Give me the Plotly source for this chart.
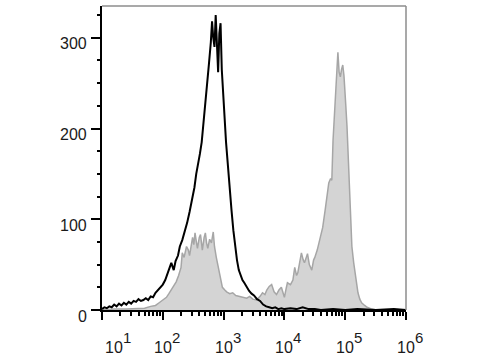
import plotly.graph_objects as go

# Black (open) histogram: log10 fluorescence positions and event counts
black_logx = [1.00, 1.04, 1.08, 1.12, 1.16, 1.20, 1.24, 1.28, 1.32, 1.36, 1.40, 1.44, 1.48, 1.52, 1.56,
              1.60, 1.64, 1.68, 1.72, 1.76, 1.80, 1.84, 1.88, 1.92, 1.96, 2.00, 2.04, 2.08, 2.11, 2.14,
              2.18, 2.21, 2.25, 2.28, 2.32, 2.36, 2.40, 2.44, 2.48, 2.52, 2.55, 2.58, 2.61, 2.64, 2.67,
              2.70, 2.73, 2.76, 2.79, 2.81, 2.83, 2.85, 2.87, 2.89, 2.91, 2.93, 2.95, 2.97, 2.99, 3.01,
              3.04, 3.07, 3.10, 3.13, 3.16, 3.19, 3.22, 3.25, 3.28, 3.31, 3.34, 3.38, 3.42, 3.46, 3.50,
              3.55, 3.60, 3.65, 3.70, 3.75, 3.80, 3.85, 3.90, 3.95, 4.00, 4.10, 4.20, 4.30, 4.40, 4.50,
              4.60, 4.80, 5.00, 5.20, 5.50, 5.80, 6.00]
black_counts = [1, 3, 2, 4, 3, 6, 4, 7, 5, 8, 6, 9, 7, 10, 9,
                12, 10, 11, 13, 11, 15, 14, 19, 22, 25, 28, 33, 40, 47, 52,
                44, 54, 60, 70, 77, 86, 96, 108, 122, 135, 150, 160, 172, 185, 205,
                225, 250, 272, 295, 318, 300, 290, 325, 300, 262, 305, 316, 265, 240, 215,
                185, 160, 132, 110, 88, 70, 55, 44, 38, 33, 30, 25, 21, 18, 16,
                12, 10, 6, 4, 3, 2, 3, 1, 2, 1, 2, 1, 3, 1, 1,
                0, 1, 0, 1, 0, 1, 0]

# Gray (filled) histogram
gray_logx = [1.00, 1.20, 1.40, 1.60, 1.70, 1.80, 1.88, 1.94, 2.00, 2.06, 2.10, 2.14, 2.18, 2.22, 2.26,
             2.30, 2.32, 2.35, 2.39, 2.42, 2.44, 2.47, 2.49, 2.51, 2.53, 2.55, 2.57, 2.60, 2.62, 2.64,
             2.65, 2.68, 2.70, 2.72, 2.74, 2.77, 2.80, 2.83, 2.85, 2.88, 2.91, 2.93, 2.96, 2.98, 3.02,
             3.05, 3.10, 3.15, 3.20, 3.26, 3.32, 3.38, 3.43, 3.48, 3.54, 3.60, 3.64, 3.68, 3.71, 3.75,
             3.79, 3.83, 3.87, 3.91, 3.95, 3.98, 4.00, 4.03, 4.05, 4.10, 4.14, 4.17, 4.20, 4.22, 4.25,
             4.28, 4.31, 4.33, 4.36, 4.38, 4.41, 4.45, 4.48, 4.50, 4.54, 4.58, 4.63, 4.67, 4.70, 4.73,
             4.76, 4.78, 4.80, 4.82, 4.84, 4.86, 4.88, 4.90, 4.92, 4.94, 4.96, 4.98, 4.99, 5.01, 5.03,
             5.06, 5.08, 5.11, 5.14, 5.16, 5.19, 5.21, 5.24, 5.27, 5.32, 5.36, 5.44, 5.52, 6.00]
gray_counts = [0, 1, 1, 2, 2, 4, 5, 8, 11, 14, 18, 22, 27, 31, 38,
               47, 63, 58, 70, 66, 60, 75, 80, 72, 85, 76, 68, 80, 83, 72,
               66, 80, 85, 74, 68, 78, 74, 86, 70, 58, 48, 44, 32, 25, 22,
               20, 18, 19, 16, 15, 14, 13, 15, 12, 11, 15, 19, 17, 22, 26,
               28, 20, 17, 22, 25, 18, 14, 24, 30, 28, 33, 47, 38, 41, 52,
               63, 55, 52, 58, 62, 50, 44, 55, 58, 66, 77, 91, 110, 125, 140,
               145, 143, 187, 212, 240, 257, 284, 262, 257, 265, 270, 258, 250, 225, 202,
               155, 114, 70, 52, 41, 28, 19, 12, 8, 5, 3, 1, 0, 0]

y_ticks = [0, 100, 200, 300]
x_decades = [1, 2, 3, 4, 5, 6]

bx = [10 ** v for v in black_logx]
gx = [10 ** v for v in gray_logx]

FONT = "Arial, Liberation Sans, sans-serif"
TXT = "#1a1a1a"
FS = 16

fig = go.Figure()
fig.add_trace(go.Scatter(x=gx, y=gray_counts, mode="lines", fill="tozeroy",
                         fillcolor="#d4d4d4", line=dict(color="#a6a6a6", width=1.5),
                         showlegend=False, hoverinfo="skip"))
fig.add_trace(go.Scatter(x=bx, y=black_counts, mode="lines",
                         line=dict(color="#000000", width=2),
                         showlegend=False, hoverinfo="skip"))

minor_x = [m * 10 ** d for d in x_decades[:-1] for m in range(2, 10)]

annotations = []
# Y tick labels
for v in y_ticks:
    annotations.append(dict(xref="paper", yref="y", x=0, y=v, text=str(v), showarrow=False,
                            xanchor="right", yanchor="middle", xshift=-13, yshift=-6,
                            font=dict(family=FONT, size=FS, color=TXT)))
# X tick labels: base "10" with full-size raised exponent
for i, d in enumerate(x_decades):
    shift = 12 if i == 0 else 0
    annotations.append(dict(xref="x", yref="paper", x=d, y=0, text="10", showarrow=False,
                            xanchor="center", yanchor="middle", xshift=shift, yshift=-37,
                            font=dict(family=FONT, size=FS, color=TXT)))
    annotations.append(dict(xref="x", yref="paper", x=d, y=0, text=str(d), showarrow=False,
                            xanchor="left", yanchor="middle", xshift=shift + 7, yshift=-27,
                            font=dict(family=FONT, size=FS - 1, color=TXT)))

fig.update_layout(
    width=480, height=360,
    margin=dict(l=102, r=74, t=6, b=50),
    paper_bgcolor="white", plot_bgcolor="white",
    font=dict(family=FONT, size=FS, color=TXT),
    xaxis=dict(type="log", range=[1, 6], tickvals=[10 ** d for d in x_decades],
               showticklabels=False,
               ticks="outside", ticklen=8, tickwidth=2, tickcolor="black",
               showline=True, linecolor="black", linewidth=2, showgrid=False, zeroline=False,
               minor=dict(tickvals=minor_x, ticks="outside", ticklen=4, tickwidth=1.5,
                          tickcolor="black", showgrid=False)),
    yaxis=dict(range=[0, 335], tickvals=y_ticks, showticklabels=False,
               ticks="outside", ticklen=9, tickwidth=2,
               tickcolor="black", showline=True, linecolor="black", linewidth=2,
               showgrid=False, zeroline=False,
               minor=dict(dtick=25, tick0=0, ticks="outside", ticklen=3, tickwidth=1.5,
                          tickcolor="black", showgrid=False)),
    shapes=[
        dict(type="line", xref="paper", yref="paper", x0=0, x1=1, y0=1, y1=1,
             line=dict(color="#8c8c8c", width=1.5)),
        dict(type="line", xref="paper", yref="paper", x0=1, x1=1, y0=0, y1=1,
             line=dict(color="#8c8c8c", width=1.5)),
    ],
    annotations=annotations,
)

fig.write_html("out.html")
